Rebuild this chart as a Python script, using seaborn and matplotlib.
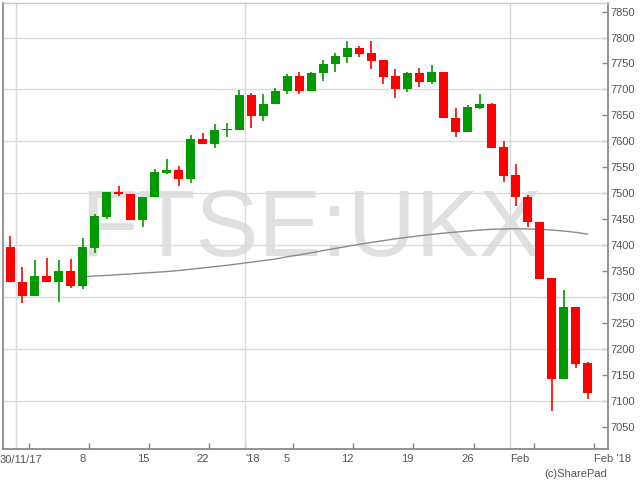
import numpy as np
import pandas as pd
import matplotlib
matplotlib.use("Agg")
import matplotlib.pyplot as plt
import matplotlib.transforms as mtransforms
import seaborn as sns

# Trading days 30 Nov 2017 - 9 Feb 2018 (UK holidays removed)
dates = pd.bdate_range("2017-11-30", "2018-02-09", freq="C",
                       holidays=["2017-12-25", "2017-12-26", "2018-01-01"])

opens = [7397, 7329, 7301, 7341, 7328, 7350, 7321, 7395, 7454, 7503,
         7499, 7449, 7492, 7539, 7545, 7527, 7605, 7595, 7622, 7622,
         7689, 7648, 7672, 7696, 7726, 7696, 7731, 7748, 7763, 7780,
         7770, 7756, 7725, 7701, 7732, 7715, 7733, 7645, 7617, 7665,
         7672, 7589, 7535, 7493, 7445, 7337, 7142, 7281, 7173]
highs = [7417, 7358, 7372, 7376, 7372, 7374, 7413, 7460, 7503, 7513,
         7499, 7493, 7547, 7566, 7553, 7612, 7616, 7634, 7636, 7699,
         7694, 7692, 7702, 7730, 7734, 7734, 7757, 7771, 7793, 7784,
         7793, 7756, 7740, 7733, 7741, 7747, 7733, 7665, 7669, 7691,
         7674, 7600, 7556, 7496, 7445, 7337, 7313, 7281, 7175]
lows = [7328, 7289, 7301, 7328, 7291, 7317, 7315, 7385, 7450, 7494,
        7449, 7434, 7492, 7536, 7513, 7519, 7594, 7587, 7609, 7622,
        7625, 7640, 7672, 7691, 7692, 7696, 7717, 7734, 7751, 7763,
        7740, 7711, 7684, 7695, 7704, 7710, 7644, 7609, 7617, 7663,
        7588, 7522, 7476, 7434, 7335, 7081, 7142, 7163, 7103]
closes = [7328, 7301, 7341, 7328, 7350, 7321, 7396, 7456, 7503, 7498,
          7449, 7493, 7540, 7545, 7527, 7605, 7594, 7622, 7624, 7689,
          7648, 7672, 7697, 7726, 7696, 7732, 7749, 7764, 7780, 7769,
          7755, 7724, 7701, 7732, 7715, 7733, 7644, 7617, 7667, 7672,
          7588, 7534, 7492, 7444, 7335, 7142, 7281, 7171, 7114]

# long moving average, starts at the 7th candle
ma_start = 6
ma_values = [7339, 7340.5, 7341.5, 7343, 7344.5, 7346, 7347.5, 7349, 7351,
             7353.5, 7356, 7358.5, 7361, 7364, 7367, 7370, 7373, 7377.5,
             7381, 7385, 7389.5, 7393.5, 7397.5, 7401.5, 7405, 7408.5,
             7412, 7415, 7418, 7420.5, 7423, 7425, 7427, 7429, 7430.5,
             7431, 7431.5, 7431, 7430.5, 7429, 7427, 7424.5, 7421]

week_dates = ["2017-12-08", "2017-12-15", "2017-12-22", "2018-01-05",
              "2018-01-12", "2018-01-19", "2018-01-26"]
week_labels = ["8", "15", "22", "5", "12", "19", "26"]
month_starts = ["2017-12-01", "2018-01-02", "2018-02-01"]
month_labels = ["", "'18", "Feb"]

sns.set_theme(style="white")
plt.rcParams["font.family"] = ["Liberation Sans", "DejaVu Sans"]

fig = plt.figure(figsize=(6.4, 4.8), dpi=100)
ax = fig.add_axes([3 / 640, 31 / 480, 604.5 / 640, 446 / 480])

x = np.arange(len(dates))
pos = {d.strftime("%Y-%m-%d"): i for i, d in enumerate(dates)}
o = np.array(opens, dtype=float)
c = np.array(closes, dtype=float)
cols = np.where(c >= o, "#009a00", "#ff0000")

# watermark
ax.text(0.51, 0.433, "FTSE:UKX", transform=ax.transAxes, ha="center",
        va="baseline", fontsize=68, color="#e0e0e0", zorder=0)

# grid
for v in range(7100, 7801, 100):
    ax.axhline(v, color="#dadada", lw=1, zorder=1)
month_pos = [pos[m] - 0.5 for m in month_starts]
for mp in month_pos:
    ax.axvline(mp, color="#dadada", lw=1, zorder=1)

# moving average
sns.lineplot(x=x[ma_start:], y=ma_values, ax=ax, color="#8a8a8a",
             linewidth=1, zorder=2)

# candles
ax.vlines(x, lows, highs, colors=cols, linewidth=1.2, zorder=3)
ax.bar(x, np.maximum(np.abs(c - o), 1.5), bottom=np.minimum(o, c),
       width=0.75, color=cols, linewidth=0, zorder=4)

ax.set_xlim(-0.62, 49.63)
ax.set_ylim(7007, 7866.5)

# y axis on the right
ax.yaxis.tick_right()
ax.set_yticks(range(7050, 7851, 50))
ax.tick_params(axis="y", direction="in", length=4, width=1, colors="#888888",
               labelcolor="#555555", labelsize=8, pad=2, right=True, left=False)

# x ticks at the end of each week
fridays = [i + 0.5 for i, d in enumerate(dates) if d.dayofweek == 4]
ax.set_xticks(fridays)
ax.set_xticklabels([])
ax.set_xticks([month_pos[1]], minor=True)
ax.tick_params(axis="x", which="major", direction="in", length=4, width=1,
               colors="#888888", bottom=True)
ax.tick_params(axis="x", which="minor", direction="in", length=8, width=1,
               colors="#888888", bottom=True)

trans = mtransforms.blended_transform_factory(ax.transData, ax.transAxes)
lab = dict(transform=trans, va="top", fontsize=8, color="#555555")
for d, t in zip(week_dates, week_labels):
    ax.text(pos[d], -0.012, t, ha="center", **lab)
for mp, t in zip(month_pos, month_labels):
    if t:
        ax.text(mp, -0.012, t, ha="left", **lab)
ax.text(len(dates) - 0.5, -0.012, "Feb '18", ha="left", clip_on=False, **lab)
fig.text(0.0, (480 - 455) / 480, dates[0].strftime("%d/%m/%y"), ha="left",
         va="top", fontsize=8, color="#555555")
fig.text(607 / 640, (480 - 474) / 480, "(c)SharePad", ha="right",
         va="center", fontsize=8, color="#555555")

for side in ["left", "bottom", "right"]:
    ax.spines[side].set_color("#8a8a8a")
    ax.spines[side].set_linewidth(1.3)
ax.spines["top"].set_color("#c8c8c8")
ax.spines["top"].set_linewidth(1)

fig.savefig("out.png", dpi=100)
